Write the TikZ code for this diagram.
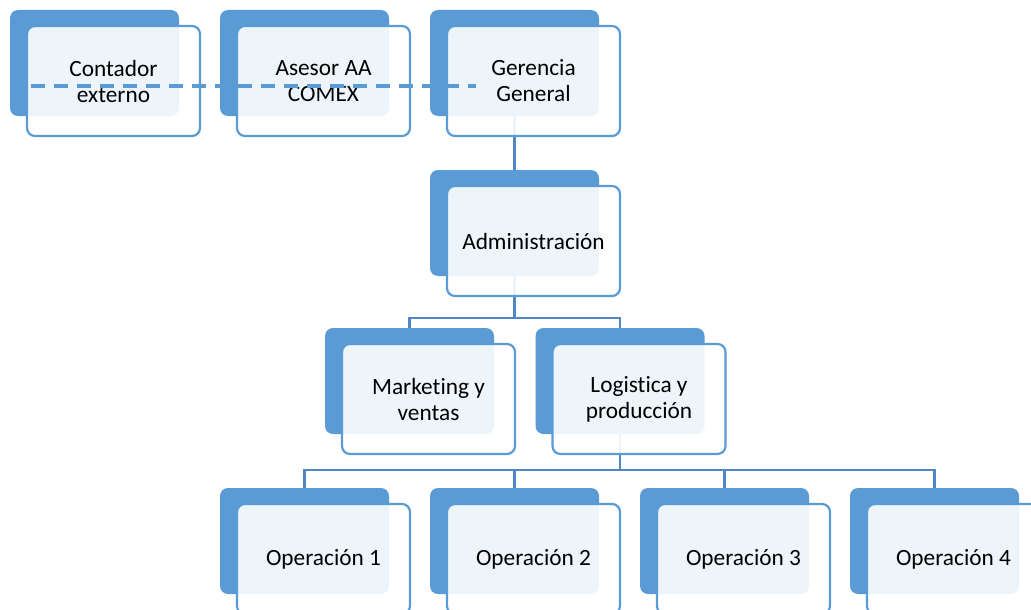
\documentclass[tikz,border=0pt]{standalone}
\usepackage{fontspec}
\setmainfont[Ligatures=NoCommon]{Carlito}
\usepackage{tikz}
\usetikzlibrary{positioning}

\definecolor{oblue}{RGB}{91,155,213}
\definecolor{lblue}{RGB}{80,134,196}

\begin{document}
\begin{tikzpicture}[x=1pt, y=-1pt,
        back/.style = {
            fill=oblue,
            rounded corners=8pt,
            minimum width=169pt,
            minimum height=106pt,
            inner sep=0pt
        },
        front/.style = {
            draw=oblue,
            line width=2.2pt,
            fill=white,
            fill opacity=0.9,
            draw opacity=1,
            text opacity=1,
            rounded corners=8pt,
            minimum width=173pt,
            minimum height=110pt,
            align=center,
            font=\fontsize{23.3}{26}\selectfont
        },
        link/.style = {draw=lblue, line width=2.2pt},
        dotline/.style = {draw=oblue, line width=3.6pt, dash pattern=on 14pt off 9pt}]

        \useasboundingbox (0,0) rectangle (1031,610);
        \clip (0,0) rectangle (1031,610);

        \node[back] (contb) at (94.5,63) {};
        \node[back] (aseb) at (304.5,63) {};
        \node[back] (gerb) at (514.5,63) {};
        \node[back] (admb) at (514.5,223) {};
        \node[back] (mkb) at (409.5,381) {};
        \node[back] (logb) at (620,381) {};
        \node[back] (op1b) at (304.5,541) {};
        \node[back] (op2b) at (514.5,541) {};
        \node[back] (op3b) at (724.5,541) {};
        \node[back] (op4b) at (934.5,541) {};

        \draw[link] (gerb.south) -- (admb.north);
        \draw[link] (admb.south) -- ++(0,42) -| (mkb.north);
        \draw[link] (admb.south) -- ++(0,42) -| (logb.north);
        \draw[link] (logb.south) -- ++(0,36) -| (op1b.north);
        \draw[link] (logb.south) -- ++(0,36) -| (op2b.north);
        \draw[link] (logb.south) -- ++(0,36) -| (op3b.north);
        \draw[link] (logb.south) -- ++(0,36) -| (op4b.north);

        \node[front] (contf) at ([shift={(19,18)}]contb.center) {Contador\\externo};
        \node[front] (asef) at ([shift={(19,18)}]aseb.center) {Asesor AA\\COMEX};
        \node[front] (gerf) at ([shift={(19,18)}]gerb.center) {Gerencia\\General};
        \node[front] (admf) at ([shift={(19,18)}]admb.center) {Administración};
        \node[front] (mkf) at ([shift={(19,18)}]mkb.center) {Marketing y\\ventas};
        \node[front] (logf) at ([shift={(19,18)}]logb.center) {Logistica y\\producción};
        \node[front] (op1f) at ([shift={(19,18)}]op1b.center) {Operación 1};
        \node[front] (op2f) at ([shift={(19,18)}]op2b.center) {Operación 2};
        \node[front] (op3f) at ([shift={(19,18)}]op3b.center) {Operación 3};
        \node[front] (op4f) at ([shift={(19,18)}]op4b.center) {Operación 4};

        % dashed advisory line
        \draw[dotline] ([shift={(5,5)}]contf.west) -- ([shift={(30,5)}]gerf.west);
    \end{tikzpicture}
\end{document}
